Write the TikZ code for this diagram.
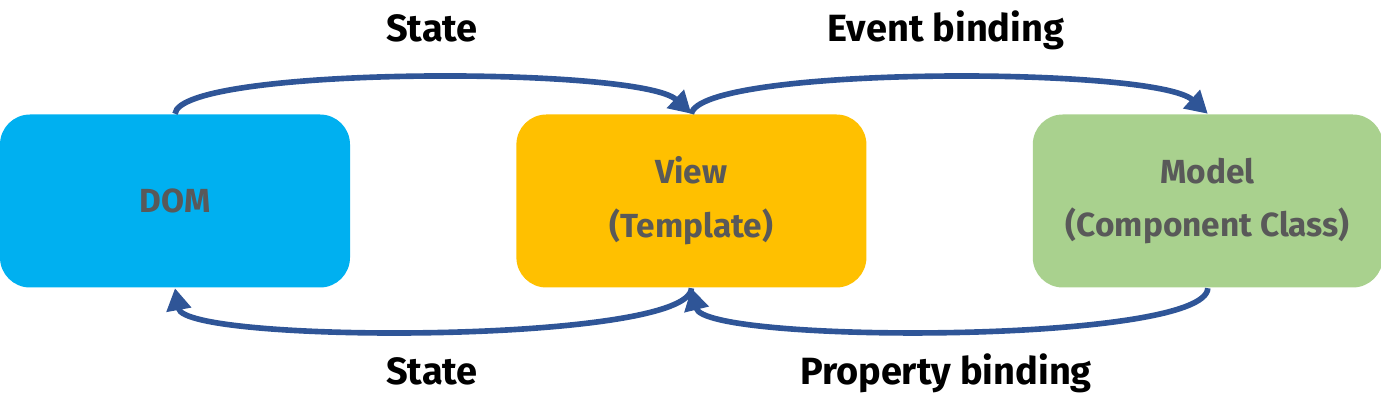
\documentclass[tikz,border=0pt]{standalone}
\usepackage{fontspec}
\setmainfont{Fira Sans}
\usetikzlibrary{arrows.meta,positioning}
\definecolor{domblue}{HTML}{00B0F0}
\definecolor{viewyellow}{HTML}{FFC000}
\definecolor{modelgreen}{HTML}{A9D18E}
\definecolor{arrowblue}{HTML}{2F5597}
\definecolor{textgrey}{HTML}{595959}
\begin{document}
\begin{tikzpicture}[x=0.1mm,y=-0.1mm,
  box/.style={rounded corners=3mm,minimum width=35mm,minimum height=17.3mm,align=center,
    font=\fontsize{9.5}{15.3}\selectfont\bfseries,text=textgrey},
  lbl/.style={anchor=base,font=\fontsize{10.8}{13}\selectfont\bfseries},
  arrow/.style={-{Triangle[length=2.2mm,width=2.4mm]},line width=1.6pt,draw=arrowblue}
]
\useasboundingbox (0,0) rectangle (1381,416);
\node[box,fill=domblue] (dom) at (175,201) {DOM};
\node[box,fill=viewyellow,right=16.5mm of dom] (view) {View\\(Template)};
\node[box,fill=modelgreen,right=16.5mm of view] (model) {Model\\(Component Class)};
\draw[arrow] (dom.north) .. controls (180,66) and (640,66) .. (view.north);
\draw[arrow] (view.north) .. controls (700,66) and (1155,66) .. (model.north);
\draw[arrow] (view.south) .. controls (690,344) and (185,344) .. (dom.south);
\draw[arrow] (model.south) .. controls (1206,344) and (705,344) .. (view.south);
\node[lbl] (statetop) at (432,42) {State};
\node[lbl] (event) at (946,42) {Event binding};
\node[lbl] (statebot) at (432,385) {State};
\node[lbl] (property) at (946,385) {Property binding};
\end{tikzpicture}
\end{document}
